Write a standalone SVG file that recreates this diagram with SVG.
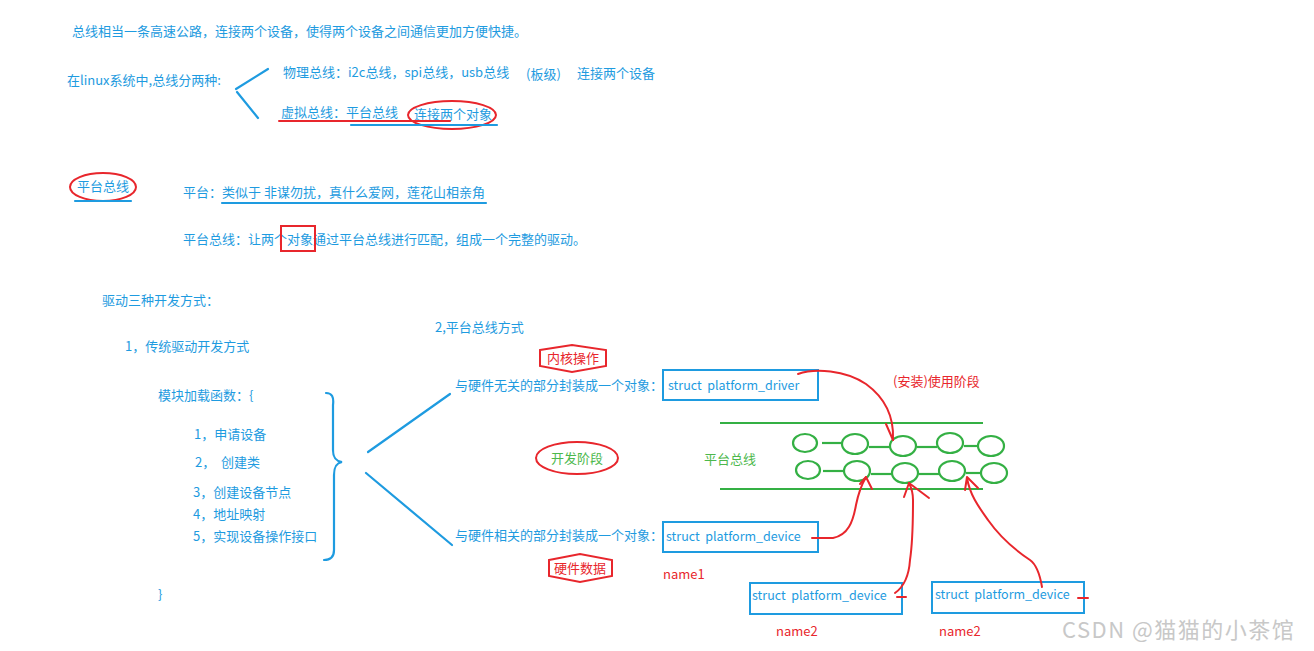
<svg xmlns="http://www.w3.org/2000/svg" width="1314" height="651" viewBox="0 0 1314 651">
<style>
text{font-family:"Noto Sans CJK SC","Microsoft YaHei",sans-serif;font-size:13px;white-space:pre}
.b{fill:#1e9be0}
.r{fill:#e8262c}
.g{fill:#4cb84c}
.bl{stroke:#1e9be0;stroke-width:2.2;fill:none;stroke-linecap:round}
.rl{stroke:#e8262c;stroke-width:2;fill:none;stroke-linecap:round;stroke-linejoin:round}
.gl{stroke:#34b044;stroke-width:2.2;fill:none}
.box{stroke:#1e9be0;stroke-width:2;fill:none}
.mono{font-size:12.5px}
</style>
<rect width="1314" height="651" fill="#ffffff"/>

<g id="intro">
<text class="b" x="72" y="36">总线相当一条高速公路，连接两个设备，使得两个设备之间通信更加方便快捷。</text>
</g>
<g id="bus-types">
<text class="b" x="67" y="85">在linux系统中,总线分两种:</text>
<text class="b" x="283" y="77">物理总线：i2c总线，spi总线，usb总线</text>
<text class="b" x="526" y="79">(板级)</text>
<text class="b" x="577" y="78">连接两个设备</text>
<text class="b" x="281" y="117">虚拟总线：平台总线</text>
<text class="b" x="414" y="119">连接两个对象</text>
<ellipse class="rl" cx="452" cy="115" rx="44" ry="14"/>
<line class="rl" x1="279" y1="121" x2="450" y2="121"/>
<line class="bl" x1="351" y1="125" x2="497" y2="125"/>
</g>
<g id="platform-bus-def">
<text class="b" x="77" y="191">平台总线</text>
<ellipse class="rl" cx="103" cy="187" rx="33" ry="14"/>
<line class="bl" x1="75" y1="201" x2="131" y2="201"/>
<text class="b" x="183" y="197">平台：类似于 非谋勿扰，真什么爱网，莲花山相亲角</text>
<line class="bl" x1="222" y1="203" x2="486" y2="203"/>
<text class="b" x="183" y="244">平台总线：让两个对象通过平台总线进行匹配，组成一个完整的驱动。</text>
<rect x="281" y="226" width="34" height="25" fill="none" stroke="#e8262c" stroke-width="2"/>
</g>
<g id="dev-methods">
<text class="b" x="102" y="305">驱动三种开发方式：</text>
<text class="b" x="125" y="351">1，传统驱动开发方式</text>
<text class="b" x="435" y="332">2,平台总线方式</text>
</g>
<g id="traditional">
<text class="b" x="158" y="400">模块加载函数：{</text>
<text class="b" x="194" y="439">1，申请设备</text>
<text class="b" x="195" y="467" xml:space="preserve">2，  创建类</text>
<text class="b" x="193" y="497">3，创建设备节点</text>
<text class="b" x="193" y="519">4，地址映射</text>
<text class="b" x="193" y="541">5，实现设备操作接口</text>
<text class="b" x="158" y="599">}</text>
<path class="bl" d="M326,393 C332,393 334,397 333,405 L333,450 C333,458 336,461 342,462 C336,463 334,467 334,475 L334,550 C334,557 330,560 324,560" stroke-width="2.6"/>
</g>
<g id="kernel-op">
<polygon points="540,350 572,345 606,350 606,366 572,372 540,366" fill="none" stroke="#e8262c" stroke-width="2"/>
<text class="r" x="573" y="363" text-anchor="middle">内核操作</text>
</g>
<g id="driver-obj">
<text class="b" x="455" y="390">与硬件无关的部分封装成一个对象：</text>
<rect class="box" x="663" y="370" width="155" height="30"/>
<text class="b mono" x="668" y="390" xml:space="preserve">struct  platform_driver</text>
</g>
<g id="dev-stage">
<ellipse class="rl" cx="577" cy="458" rx="41" ry="16"/>
<text class="g" x="577" y="463" text-anchor="middle">开发阶段</text>
</g>
<g id="hw-data">
<polygon points="549,560 580,554 612,560 612,576 580,582 549,576" fill="none" stroke="#e8262c" stroke-width="2"/>
<text class="r" x="580" y="573" text-anchor="middle">硬件数据</text>
</g>
<g id="device-obj">
<text class="b" x="455" y="540">与硬件相关的部分封装成一个对象：</text>
<rect class="box" x="663" y="522" width="155" height="30"/>
<text class="b mono" x="666" y="541" xml:space="preserve">struct  platform_device</text>
<text class="r" x="663" y="579">name1</text>
</g>
<g id="install-stage">
<text class="r" x="893" y="386">(安装)使用阶段</text>
</g>
<g id="platform-bus">
<line class="gl" x1="720" y1="423" x2="983" y2="423"/>
<line class="gl" x1="720" y1="489" x2="983" y2="489"/>
<text class="g" x="704" y="464">平台总线</text>
<ellipse class="gl" cx="805" cy="443" rx="12" ry="9"/>
<ellipse class="gl" cx="855" cy="444" rx="13" ry="10"/>
<ellipse class="gl" cx="903" cy="446" rx="13" ry="10"/>
<ellipse class="gl" cx="950" cy="443" rx="13" ry="10"/>
<ellipse class="gl" cx="991" cy="446" rx="13" ry="10"/>
<line class="gl" x1="822" y1="443" x2="842" y2="443"/>
<line class="gl" x1="869" y1="447" x2="890" y2="447"/>
<line class="gl" x1="917" y1="447" x2="937" y2="447"/>
<line class="gl" x1="964" y1="446" x2="978" y2="446"/>
<ellipse class="gl" cx="808" cy="470" rx="12" ry="9"/>
<ellipse class="gl" cx="857" cy="471" rx="13" ry="10"/>
<ellipse class="gl" cx="905" cy="473" rx="13" ry="10"/>
<ellipse class="gl" cx="952" cy="471" rx="13" ry="10"/>
<ellipse class="gl" cx="994" cy="473" rx="13" ry="10"/>
<line class="gl" x1="823" y1="471" x2="843" y2="471"/>
<line class="gl" x1="871" y1="474" x2="892" y2="474"/>
<line class="gl" x1="919" y1="474" x2="939" y2="474"/>
<line class="gl" x1="966" y1="473" x2="981" y2="473"/>
</g>
<g id="device-2">
<rect class="box" x="750" y="583" width="152" height="31"/>
<text class="b mono" x="752" y="600" xml:space="preserve">struct  platform_device</text>
<text class="r" x="776" y="636">name2</text>
</g>
<g id="device-3">
<rect class="box" x="932" y="582" width="152" height="31"/>
<text class="b mono" x="935" y="599" xml:space="preserve">struct  platform_device</text>
<text class="r" x="939" y="636">name2</text>
</g>
<g id="watermark">
<text x="1062" y="638" style="font-size:22px;letter-spacing:1.5px;fill:#c8c8c8">CSDN @猫猫的小茶馆</text>
</g>
<g id="connectors">
<line class="bl" x1="236" y1="89" x2="268" y2="69"/>
<line class="bl" x1="237" y1="92" x2="258" y2="118"/>
<line class="bl" x1="368" y1="452" x2="450" y2="394"/>
<line class="bl" x1="366" y1="473" x2="452" y2="545"/>
<path class="rl" d="M798,374 C815,368 845,370 866,384 C888,400 894,420 893,440"/>
<path class="rl" d="M886,424 L893,440"/>
<path class="rl" d="M812,538 L833,538 C848,535 853,522 856,505 C858,495 862,484 866,477"/>
<path class="rl" d="M860,484 L866,477 L872,489"/>
<path class="rl" d="M895,593 C905,586 909,575 910,560 C913,540 913,515 913,500 C913,493 911,487 909,483"/>
<path class="rl" d="M904,497 L909,483 L929,498"/>
<line class="rl" x1="897" y1="597" x2="906" y2="597"/>
<path class="rl" d="M1042,587 C1040,575 1037,565 1030,560 C1015,550 1000,537 988,520 C978,506 970,495 967,478"/>
<path class="rl" d="M965,490 L967,477 L978,488"/>
<line class="rl" x1="1078" y1="598" x2="1088" y2="598"/>
</g>
</svg>
